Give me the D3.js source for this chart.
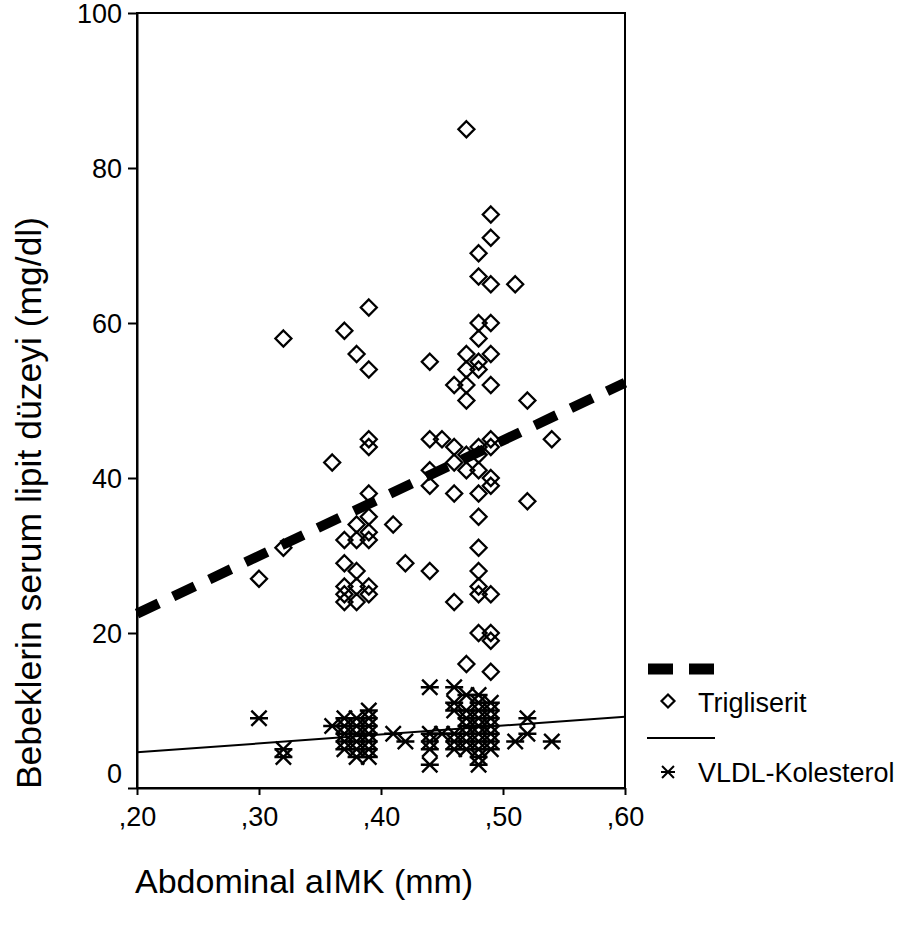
<!DOCTYPE html>
<html>
<head>
<meta charset="utf-8">
<script src="https://cdn.jsdelivr.net/npm/d3@7"></script>
<style>
  body { margin: 0; background: #fff; }
  text { font-family: "Liberation Sans", Arial, sans-serif; fill: #000; }
</style>
</head>
<body>
<div id="chart"></div>
<script>
// Trigliserit points [aIMK, mg/dl]
const trigliserit = [
  [0.30, 27],
  [0.32, 58], [0.32, 31],
  [0.36, 42],
  [0.37, 59], [0.37, 32], [0.37, 29], [0.37, 26], [0.37, 25], [0.37, 24],
  [0.38, 56], [0.38, 34], [0.38, 32], [0.38, 28], [0.38, 26], [0.38, 24],
  [0.39, 62], [0.39, 54], [0.39, 45], [0.39, 44], [0.39, 38], [0.39, 35], [0.39, 33], [0.39, 32], [0.39, 26], [0.39, 25],
  [0.41, 34],
  [0.42, 29],
  [0.44, 55], [0.44, 45], [0.44, 41], [0.44, 39], [0.44, 28],
  [0.45, 45],
  [0.46, 52], [0.46, 44], [0.46, 42], [0.46, 38], [0.46, 24],
  [0.47, 85], [0.47, 56], [0.47, 54], [0.47, 52], [0.47, 50], [0.47, 43], [0.47, 41], [0.47, 16],
  [0.48, 69], [0.48, 66], [0.48, 60], [0.48, 58], [0.48, 55], [0.48, 54], [0.48, 44], [0.48, 43],
  [0.48, 41], [0.48, 38], [0.48, 35], [0.48, 31], [0.48, 28], [0.48, 26], [0.48, 25], [0.48, 20],
  [0.49, 74], [0.49, 71], [0.49, 65], [0.49, 60], [0.49, 56], [0.49, 52], [0.49, 45], [0.49, 44],
  [0.49, 40], [0.49, 39], [0.49, 25], [0.49, 20], [0.49, 19], [0.49, 15],
  [0.51, 65],
  [0.52, 50], [0.52, 37],
  [0.54, 45]
];

// VLDL-Kolesterol points
const vldl = [
  [0.30, 9],
  [0.32, 5], [0.32, 4],
  [0.36, 8],
  [0.37, 9], [0.37, 8], [0.37, 7], [0.37, 6], [0.37, 5],
  [0.38, 9], [0.38, 8], [0.38, 7], [0.38, 6], [0.38, 5], [0.38, 4],
  [0.39, 10], [0.39, 9], [0.39, 8], [0.39, 7], [0.39, 6], [0.39, 5], [0.39, 4],
  [0.41, 7],
  [0.42, 6],
  [0.44, 13], [0.44, 7], [0.44, 6], [0.44, 5], [0.44, 3],
  [0.45, 7],
  [0.46, 13], [0.46, 11], [0.46, 10], [0.46, 7], [0.46, 6], [0.46, 5],
  [0.47, 12], [0.47, 10], [0.47, 9], [0.47, 8], [0.47, 7], [0.47, 6], [0.47, 5],
  [0.48, 12], [0.48, 11], [0.48, 10], [0.48, 9], [0.48, 8], [0.48, 7], [0.48, 6], [0.48, 5], [0.48, 4], [0.48, 3],
  [0.49, 11], [0.49, 10], [0.49, 9], [0.49, 8], [0.49, 7], [0.49, 6], [0.49, 5],
  [0.51, 6],
  [0.52, 9], [0.52, 7],
  [0.54, 6]
];

// linear fit lines: values at x = 0.20 and x = 0.60
const fitX = [0.20, 0.60];
const trigFit = [22.5, 52.3];
const vldlFit = [4.6, 9.2];

const xTicks = [0.20, 0.30, 0.40, 0.50, 0.60];
const yTicks = [0, 20, 40, 60, 80, 100];
const legendLabels = ["Trigliserit", "VLDL-Kolesterol"];

const margin = { top: 13, right: 280, bottom: 141, left: 137 },
      width = 905 - margin.left - margin.right,
      height = 929 - margin.top - margin.bottom;

const svg = d3.select("#chart")
  .append("svg")
    .attr("width", 905)
    .attr("height", 929);

const g = svg.append("g")
  .attr("transform", `translate(${margin.left},${margin.top})`);

const x = d3.scaleLinear().domain([0.2, 0.6]).range([0, width]);
const y = d3.scaleLinear().domain([0, 100]).range([height, 0]);

const fmt = d => d3.format(".2f")(d).replace("0.", ",");

// frame
g.append("rect")
  .attr("width", width)
  .attr("height", height)
  .attr("fill", "none")
  .attr("stroke", "#000")
  .attr("stroke-width", 2);

// X axis
g.append("g")
  .attr("transform", `translate(0,${height})`)
  .call(d3.axisBottom(x).tickValues(xTicks).tickFormat(fmt).tickSize(7).tickSizeOuter(0))
  .call(a => a.select(".domain").attr("stroke-width", 2))
  .call(a => a.selectAll("line").attr("stroke-width", 2))
  .call(a => a.selectAll("text").attr("font-size", "27px").attr("dy", "1.05em").attr("y", 10)
    .style("font-family", "'Liberation Sans', Arial, sans-serif"));

// Y axis
g.append("g")
  .call(d3.axisLeft(y).tickValues(yTicks).tickSize(9).tickSizeOuter(0))
  .call(a => a.select(".domain").attr("stroke-width", 2))
  .call(a => a.selectAll("line").attr("stroke-width", 2))
  .call(a => a.selectAll("text").attr("font-size", "27px").attr("x", -15)
    .attr("dy", d => d === 0 ? "-0.22em" : "0.35em")
    .style("font-family", "'Liberation Sans', Arial, sans-serif"));

// axis titles
svg.append("text")
  .attr("x", 135)
  .attr("y", 893)
  .attr("font-size", "34px")
  .text("Abdominal aIMK (mm)");

svg.append("text")
  .attr("transform", "rotate(-90)")
  .attr("x", -503)
  .attr("y", 41)
  .attr("text-anchor", "middle")
  .attr("font-size", "35.5px")
  .text("Bebeklerin serum lipit düzeyi (mg/dl)");

// marker shapes
const diamond = s => `M0,${-s}L${s},0L0,${s}L${-s},0Z`;
const star = s => {
  const a = s * 0.85;
  return `M${-s},0L${s},0M${-a},${-a}L${a},${a}M${a},${-a}L${-a},${a}`;
};

const plot = g.append("g");

// fit lines
const line = d3.line().x(d => x(d[0])).y(d => y(d[1]));

plot.append("path")
  .datum(fitX.map((v, i) => [v, trigFit[i]]))
  .attr("d", line)
  .attr("fill", "none")
  .attr("stroke", "#000")
  .attr("stroke-width", 10)
  .attr("stroke-dasharray", "24,16");

plot.append("path")
  .datum(fitX.map((v, i) => [v, vldlFit[i]]))
  .attr("d", line)
  .attr("fill", "none")
  .attr("stroke", "#000")
  .attr("stroke-width", 2);

// points
plot.selectAll("path.tri")
  .data(trigliserit)
  .enter()
  .append("path")
    .attr("class", "tri")
    .attr("transform", d => `translate(${x(d[0])},${y(d[1])})`)
    .attr("d", diamond(8))
    .attr("fill", "none")
    .attr("stroke", "#000")
    .attr("stroke-width", 2.3);

plot.selectAll("path.vl")
  .data(vldl)
  .enter()
  .append("path")
    .attr("class", "vl")
    .attr("transform", d => `translate(${x(d[0])},${y(d[1])})`)
    .attr("d", star(9))
    .attr("fill", "none")
    .attr("stroke", "#000")
    .attr("stroke-width", 2.4);

// legend
const lg = svg.append("g");

lg.append("line")
  .attr("x1", 648).attr("x2", 714)
  .attr("y1", 669).attr("y2", 669)
  .attr("stroke", "#000")
  .attr("stroke-width", 11)
  .attr("stroke-dasharray", "25,16");

lg.append("path")
  .attr("transform", "translate(668,701)")
  .attr("d", diamond(6.5))
  .attr("fill", "none")
  .attr("stroke", "#000")
  .attr("stroke-width", 2.2);

lg.append("line")
  .attr("x1", 647).attr("x2", 715)
  .attr("y1", 738).attr("y2", 738)
  .attr("stroke", "#000")
  .attr("stroke-width", 2);

lg.append("path")
  .attr("transform", "translate(668,772)")
  .attr("d", star(7))
  .attr("fill", "none")
  .attr("stroke", "#000")
  .attr("stroke-width", 2);

lg.selectAll("text.leg")
  .data(legendLabels)
  .enter()
  .append("text")
    .attr("class", "leg")
    .attr("x", 698)
    .attr("y", (d, i) => i === 0 ? 712 : 782)
    .attr("font-size", "27px")
    .text(d => d);
</script>
</body>
</html>
